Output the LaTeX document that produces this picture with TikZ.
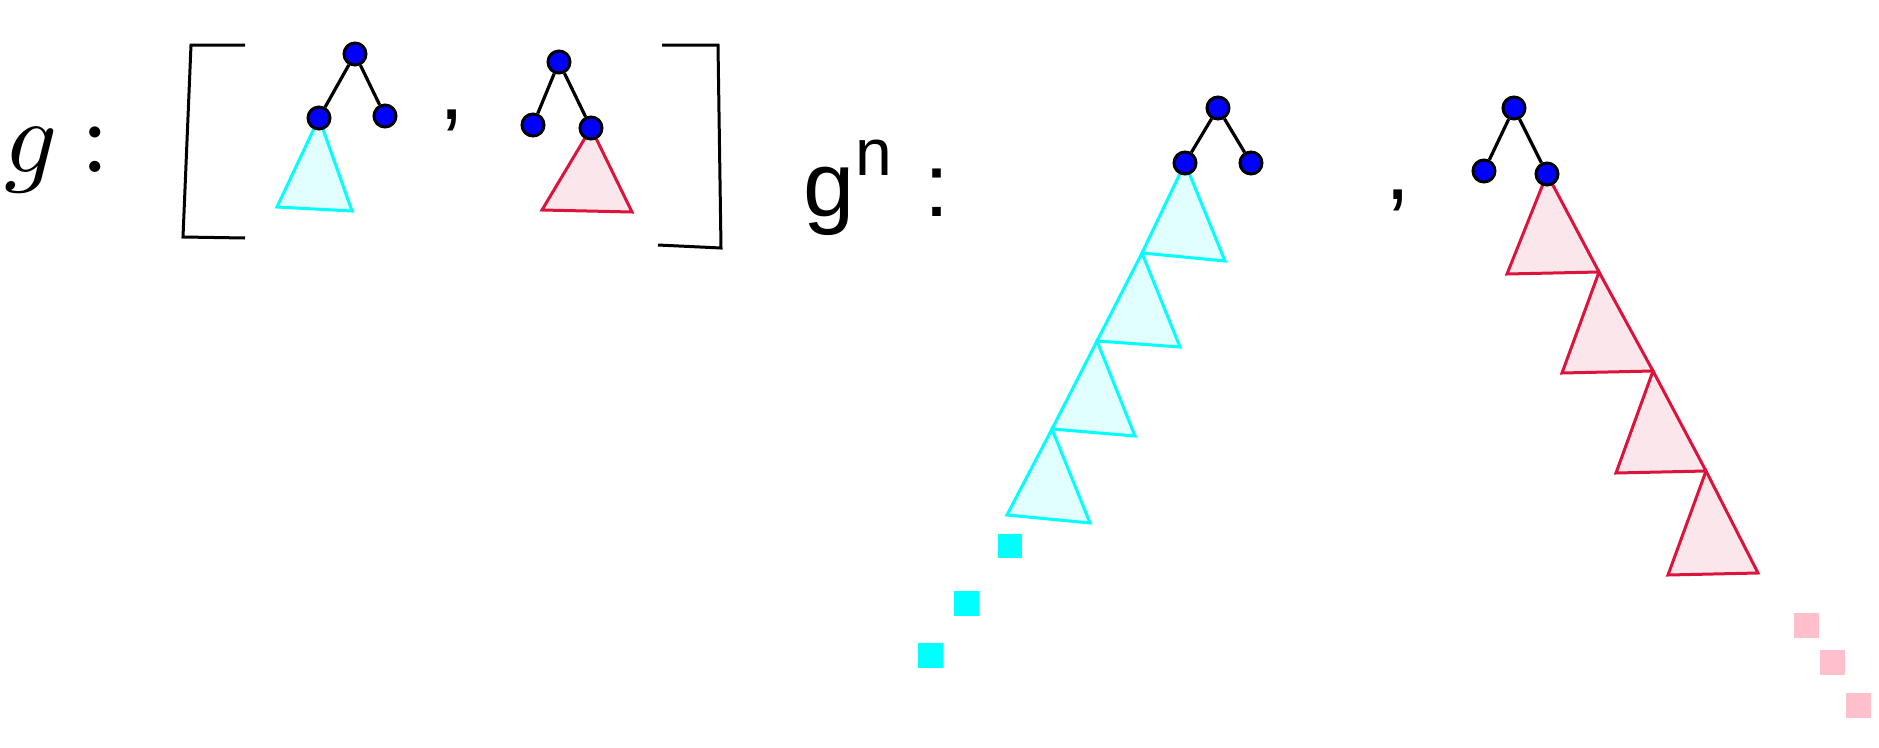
\documentclass[tikz,border=0pt]{standalone}
\usepackage{fontspec}
\newfontfamily\sansf{Liberation Sans}
\definecolor{crimson}{RGB}{220,20,60}
\definecolor{cyanc}{RGB}{0,255,255}
\definecolor{lcyan}{RGB}{225,255,255}
\definecolor{lred}{RGB}{251,230,236}
\definecolor{pinkc}{RGB}{255,192,203}
\begin{document}
\begin{tikzpicture}[x=1pt,y=-1pt,
  dot/.style={circle, fill=blue, draw=black, line width=3pt, minimum size=22pt, inner sep=0pt},
  edge/.style={line width=3.2pt, black},
  cyantri/.style={draw=cyanc, fill=lcyan, line width=3pt, line join=miter},
  redtri/.style={draw=crimson, fill=lred, line width=3pt, line join=miter},
  brack/.style={line width=3pt, black},
  cyansq/.style={fill=cyanc},
  pinksq/.style={fill=pinkc},
  txt/.style={inner sep=0pt, anchor=base}]
\useasboundingbox (0,0) rectangle (1879,747);

% ---------- left part: g : [ ... , ... ]
\node[txt, anchor=base west, scale=10.4] (gm) at (2,172) {$g$};
\node[txt, scale=10.6] (c1) at (95,172) {:};
\draw[brack] (245,45) -- (191,45) -- (183,237) -- (245,238);
\draw[brack] (662,45) -- (718,45) -- (721,248) -- (658,245);

% tree 1
\coordinate (t1a) at (319,118);
\draw[cyantri] (t1a) -- (277,207) -- (352,211) -- cycle;
\node[dot] (t1r) at (355,54) {};
\node[dot] (t1l) at (t1a) {};
\node[dot] (t1b) at (385,116) {};
\draw[edge] (t1r) -- (t1l);
\draw[edge] (t1r) -- (t1b);

\node[txt, font=\sansf\fontsize{90}{100}\selectfont] (cm1) at (452,119) {,};

% tree 2
\coordinate (t2a) at (591,128);
\draw[redtri] (t2a) -- (542,210) -- (632,212) -- cycle;
\node[dot] (t2r) at (559,62) {};
\node[dot] (t2l) at (533,125) {};
\node[dot] (t2b) at (t2a) {};
\draw[edge] (t2r) -- (t2l);
\draw[edge] (t2r) -- (t2b);

% ---------- right part: g^n :
\node[txt, font=\sansf\fontsize{92}{100}\selectfont] (gs) at (829,216) {g};
\node[txt, font=\sansf\fontsize{66}{70}\selectfont] (ns) at (874,175) {n};
\node[txt, font=\sansf\fontsize{90}{100}\selectfont] (c2) at (937,216) {:};

% tree 3 with cyan chain
\coordinate (ca1) at (1185,163);
\coordinate (ca2) at (1142,253);
\coordinate (ca3) at (1097,341);
\coordinate (ca4) at (1052,429);
\coordinate (ca5) at (1007,515);
\draw[cyantri] (ca4) -- (ca5) -- (1090,523) -- cycle;
\draw[cyantri] (ca3) -- (ca4) -- (1135,436) -- cycle;
\draw[cyantri] (ca2) -- (ca3) -- (1180,347) -- cycle;
\draw[cyantri] (ca1) -- (ca2) -- (1225,261) -- cycle;
\node[dot] (t3r) at (1218,108) {};
\node[dot] (t3l) at (ca1) {};
\node[dot] (t3b) at (1251,163) {};
\draw[edge] (t3r) -- (t3l);
\draw[edge] (t3r) -- (t3b);

\fill[cyansq] (998,534) rectangle (1022,558);
\fill[cyansq] (954,591) rectangle (979,616);
\fill[cyansq] (918,643) rectangle (943,668);

\node[txt, font=\sansf\fontsize{90}{100}\selectfont] (cm2) at (1398,199) {,};

% tree 4 with red chain
\coordinate (ra1) at (1547,174);
\coordinate (ra2) at (1599,272);
\coordinate (ra3) at (1653,371);
\coordinate (ra4) at (1706,471);
\coordinate (ra5) at (1758,573);
\draw[redtri] (ra4) -- (1668,575) -- (ra5) -- cycle;
\draw[redtri] (ra3) -- (1616,473) -- (ra4) -- cycle;
\draw[redtri] (ra2) -- (1562,373) -- (ra3) -- cycle;
\draw[redtri] (ra1) -- (1507,274) -- (ra2) -- cycle;
\node[dot] (t4r) at (1514,108) {};
\node[dot] (t4l) at (1484,171) {};
\node[dot] (t4b) at (ra1) {};
\draw[edge] (t4r) -- (t4l);
\draw[edge] (t4r) -- (t4b);

\fill[pinksq] (1794,613) rectangle (1819,638);
\fill[pinksq] (1820,650) rectangle (1845,675);
\fill[pinksq] (1846,693) rectangle (1871,718);
\end{tikzpicture}
\end{document}
